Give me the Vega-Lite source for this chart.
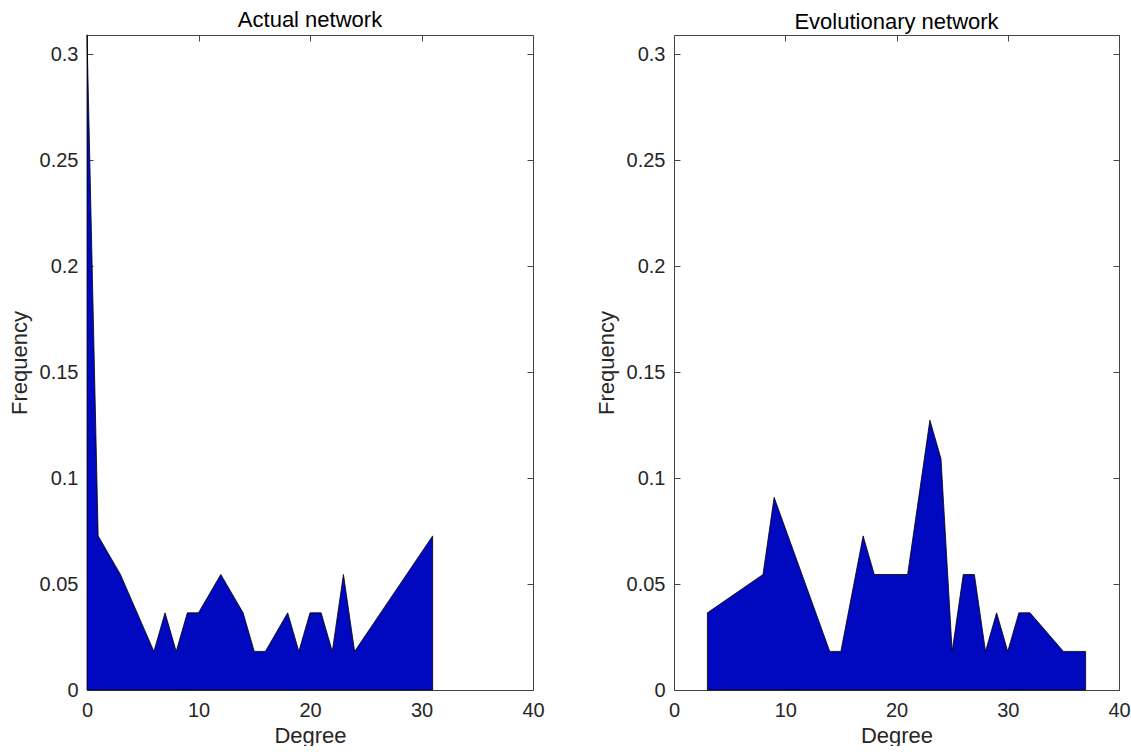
{
  "$schema": "https://vega.github.io/schema/vega-lite/v6.json",
  "autosize": {"type": "pad"},
  "padding": {"left": 8, "top": 9, "right": 5, "bottom": 0},
  "background": "white",
  "bounds": "flush",
  "spacing": 141,
  "datasets": {
    "actual": [
      {"degree": 0, "frequency": 0.3091},
      {"degree": 1, "frequency": 0.0727},
      {"degree": 3, "frequency": 0.0545},
      {"degree": 6, "frequency": 0.0182},
      {"degree": 7, "frequency": 0.0364},
      {"degree": 8, "frequency": 0.0182},
      {"degree": 9, "frequency": 0.0364},
      {"degree": 10, "frequency": 0.0364},
      {"degree": 12, "frequency": 0.0545},
      {"degree": 14, "frequency": 0.0364},
      {"degree": 15, "frequency": 0.0182},
      {"degree": 16, "frequency": 0.0182},
      {"degree": 18, "frequency": 0.0364},
      {"degree": 19, "frequency": 0.0182},
      {"degree": 20, "frequency": 0.0364},
      {"degree": 21, "frequency": 0.0364},
      {"degree": 22, "frequency": 0.0182},
      {"degree": 23, "frequency": 0.0545},
      {"degree": 24, "frequency": 0.0182},
      {"degree": 31, "frequency": 0.0727}
    ],
    "evolutionary": [
      {"degree": 3, "frequency": 0.0364},
      {"degree": 8, "frequency": 0.0545},
      {"degree": 9, "frequency": 0.0909},
      {"degree": 14, "frequency": 0.0182},
      {"degree": 15, "frequency": 0.0182},
      {"degree": 17, "frequency": 0.0727},
      {"degree": 18, "frequency": 0.0545},
      {"degree": 21, "frequency": 0.0545},
      {"degree": 23, "frequency": 0.1273},
      {"degree": 24, "frequency": 0.1091},
      {"degree": 25, "frequency": 0.0182},
      {"degree": 26, "frequency": 0.0545},
      {"degree": 27, "frequency": 0.0545},
      {"degree": 28, "frequency": 0.0182},
      {"degree": 29, "frequency": 0.0364},
      {"degree": 30, "frequency": 0.0182},
      {"degree": 31, "frequency": 0.0364},
      {"degree": 32, "frequency": 0.0364},
      {"degree": 35, "frequency": 0.0182},
      {"degree": 37, "frequency": 0.0182}
    ]
  },
  "hconcat": [
    {
      "width": 446,
      "height": 655,
      "title": {"text": "Actual network"},
      "data": {"name": "actual"},
      "layer": [
        {
          "mark": {"type": "area", "fill": "#0008C0", "stroke": "#000000", "strokeWidth": 0.8, "fillOpacity": 1},
          "encoding": {
            "x": {"field": "degree", "type": "quantitative", "scale": {"domain": [0, 40], "nice": false, "zero": false},
                  "axis": {"orient": "bottom", "values": [0, 10, 20, 30, 40], "title": "Degree", "format": "d"}},
            "y": {"field": "frequency", "type": "quantitative", "scale": {"domain": [0, 0.309], "nice": false},
                  "axis": {"orient": "left", "values": [0, 0.05, 0.1, 0.15, 0.2, 0.25, 0.3], "title": "Frequency", "format": "~g"}}
          }
        },
        {
          "mark": {"type": "line", "strokeOpacity": 0},
          "encoding": {
            "x": {"field": "degree", "type": "quantitative", "scale": {"domain": [0, 40], "nice": false, "zero": false},
                  "axis": {"orient": "top", "values": [0, 10, 20, 30, 40], "labels": false, "title": null}},
            "y": {"field": "frequency", "type": "quantitative", "scale": {"domain": [0, 0.309], "nice": false},
                  "axis": {"orient": "right", "values": [0, 0.05, 0.1, 0.15, 0.2, 0.25, 0.3], "labels": false, "title": null}}
          }
        }
      ],
      "resolve": {"axis": {"x": "independent", "y": "independent"}}
    },
    {
      "width": 445,
      "height": 655,
      "title": {"text": "Evolutionary network"},
      "data": {"name": "evolutionary"},
      "layer": [
        {
          "mark": {"type": "area", "fill": "#0008C0", "stroke": "#000000", "strokeWidth": 0.8, "fillOpacity": 1},
          "encoding": {
            "x": {"field": "degree", "type": "quantitative", "scale": {"domain": [0, 40], "nice": false, "zero": false},
                  "axis": {"orient": "bottom", "values": [0, 10, 20, 30, 40], "title": "Degree", "format": "d"}},
            "y": {"field": "frequency", "type": "quantitative", "scale": {"domain": [0, 0.309], "nice": false},
                  "axis": {"orient": "left", "values": [0, 0.05, 0.1, 0.15, 0.2, 0.25, 0.3], "title": "Frequency", "format": "~g"}}
          }
        },
        {
          "mark": {"type": "line", "strokeOpacity": 0},
          "encoding": {
            "x": {"field": "degree", "type": "quantitative", "scale": {"domain": [0, 40], "nice": false, "zero": false},
                  "axis": {"orient": "top", "values": [0, 10, 20, 30, 40], "labels": false, "title": null}},
            "y": {"field": "frequency", "type": "quantitative", "scale": {"domain": [0, 0.309], "nice": false},
                  "axis": {"orient": "right", "values": [0, 0.05, 0.1, 0.15, 0.2, 0.25, 0.3], "labels": false, "title": null}}
          }
        }
      ],
      "resolve": {"axis": {"x": "independent", "y": "independent"}}
    }
  ],
  "config": {
    "font": "Liberation Sans",
    "view": {"stroke": null},
    "title": {"fontSize": 22, "fontWeight": "normal", "color": "#000000", "offset": 1, "font": "Liberation Sans"},
    "axis": {
      "domainColor": "#444444",
      "domainWidth": 1,
      "tickColor": "#444444",
      "tickSize": -6,
      "tickWidth": 1,
      "grid": false,
      "labelFlush": false,
      "labelFontSize": 20,
      "labelColor": "#262626",
      "labelFont": "Liberation Sans",
      "titleFont": "Liberation Sans",
      "titleFontSize": 22,
      "titleFontWeight": "normal",
      "titleColor": "#262626"
    },
    "axisBottom": {"labelPadding": 16, "titlePadding": 5},
    "axisLeft": {"labelPadding": 15, "titlePadding": 8}
  }
}
